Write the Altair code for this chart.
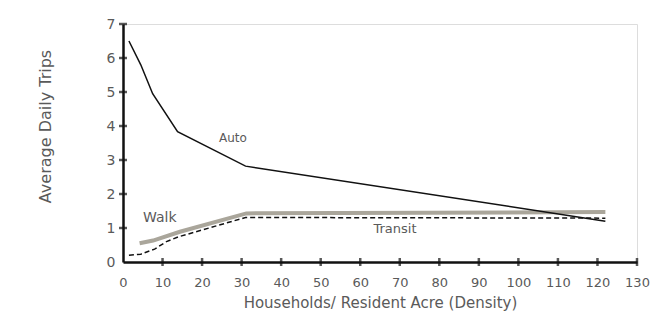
import altair as alt
import pandas as pd

# ---- data ----
auto_x = [1.5, 4.5, 7.5, 13.8, 31.0, 122.0]
auto_y = [6.5, 5.8, 4.95, 3.83, 2.82, 1.2]

walk_x = [4.2, 7.6, 14.4, 31.2, 122.0]
walk_y = [0.55, 0.63, 0.89, 1.43, 1.47]

transit_x = [1.5, 4.5, 8.0, 11.0, 14.0, 31.0, 122.0]
transit_y = [0.2, 0.23, 0.38, 0.6, 0.74, 1.31, 1.29]

x_ticks = list(range(0, 131, 10))
y_ticks = list(range(0, 8))

label_text = ["Auto", "Walk", "Transit"]
label_x = [27.8, 9.3, 68.8]
label_y = [3.65, 1.3, 0.98]
label_size = [12, 14, 13]

FONT = "DejaVu Sans"
TXT = "#5a5a5a"

walk_df = pd.DataFrame({"x": walk_x, "y": walk_y})
transit_df = pd.DataFrame({"x": transit_x, "y": transit_y})
auto_df = pd.DataFrame({"x": auto_x, "y": auto_y})
labels_df = pd.DataFrame({"x": label_x, "y": label_y, "t": label_text, "s": label_size})
xt_df = pd.DataFrame({"x": x_ticks[1:]})
yt_df = pd.DataFrame({"y": y_ticks[1:]})

xscale = alt.Scale(domain=[0, 130], nice=False, zero=False)
yscale = alt.Scale(domain=[0, 7], nice=False)

xaxis = alt.Axis(values=x_ticks, title="Households/ Resident Acre (Density)",
                 ticks=False, grid=False, domainColor="#111111", domainWidth=2.5,
                 labelColor=TXT, labelFont=FONT, labelFontSize=13, labelPadding=14,
                 labelOverlap=False, labelFlush=False,
                 titleColor=TXT, titleFont=FONT, titleFontSize=15, titleFontWeight="normal",
                 titleX=257, titleY=40, titleAlign="center", titleBaseline="middle")
yaxis = alt.Axis(values=y_ticks, title="Average Daily Trips",
                 ticks=False, grid=False, domainColor="#111111", domainWidth=2.5,
                 labelColor=TXT, labelFont=FONT, labelFontSize=14, labelPadding=8,
                 labelOverlap=False, labelFlush=False,
                 titleColor=TXT, titleFont=FONT, titleFontSize=16, titleFontWeight="normal",
                 titleX=-78, titleY=102, titleAlign="center", titleBaseline="middle",
                 titleAngle=270)

X = alt.X("x:Q", scale=xscale, axis=xaxis)
Y = alt.Y("y:Q", scale=yscale, axis=yaxis)
X0 = alt.X(datum=0, type="quantitative", scale=xscale, axis=xaxis)
Y0 = alt.Y(datum=0, type="quantitative", scale=yscale, axis=yaxis)

walk = alt.Chart(walk_df).mark_line(color="#aaa69b", strokeWidth=4).encode(x=X, y=Y)
transit = alt.Chart(transit_df).mark_line(color="#111111", strokeWidth=1.5, strokeDash=[5, 3]).encode(x=X, y=Y)
auto = alt.Chart(auto_df).mark_line(color="#111111", strokeWidth=1.5).encode(x=X, y=Y)

labels = alt.Chart(labels_df).mark_text(color=TXT, font=FONT).encode(
    x=X, y=Y, text="t:N", size=alt.Size("s:Q", scale=None, legend=None))

xticks = alt.Chart(xt_df).mark_tick(orient="vertical", size=8, thickness=2.5, color="#111111").encode(
    x=X, y=Y0)
yticks = alt.Chart(yt_df).mark_tick(orient="horizontal", size=8, thickness=2.5, color="#111111").encode(
    y=Y, x=X0)

chart = alt.layer(walk, transit, auto, labels, xticks, yticks).properties(
    width=514, height=238,
    autosize=alt.AutoSizeParams(type="none"),
    padding={"left": 123, "top": 24, "right": 15, "bottom": 63},
).configure_view(stroke=None).configure(background="white")

chart.save("out.html", embed_options={"renderer": "svg", "actions": False})
